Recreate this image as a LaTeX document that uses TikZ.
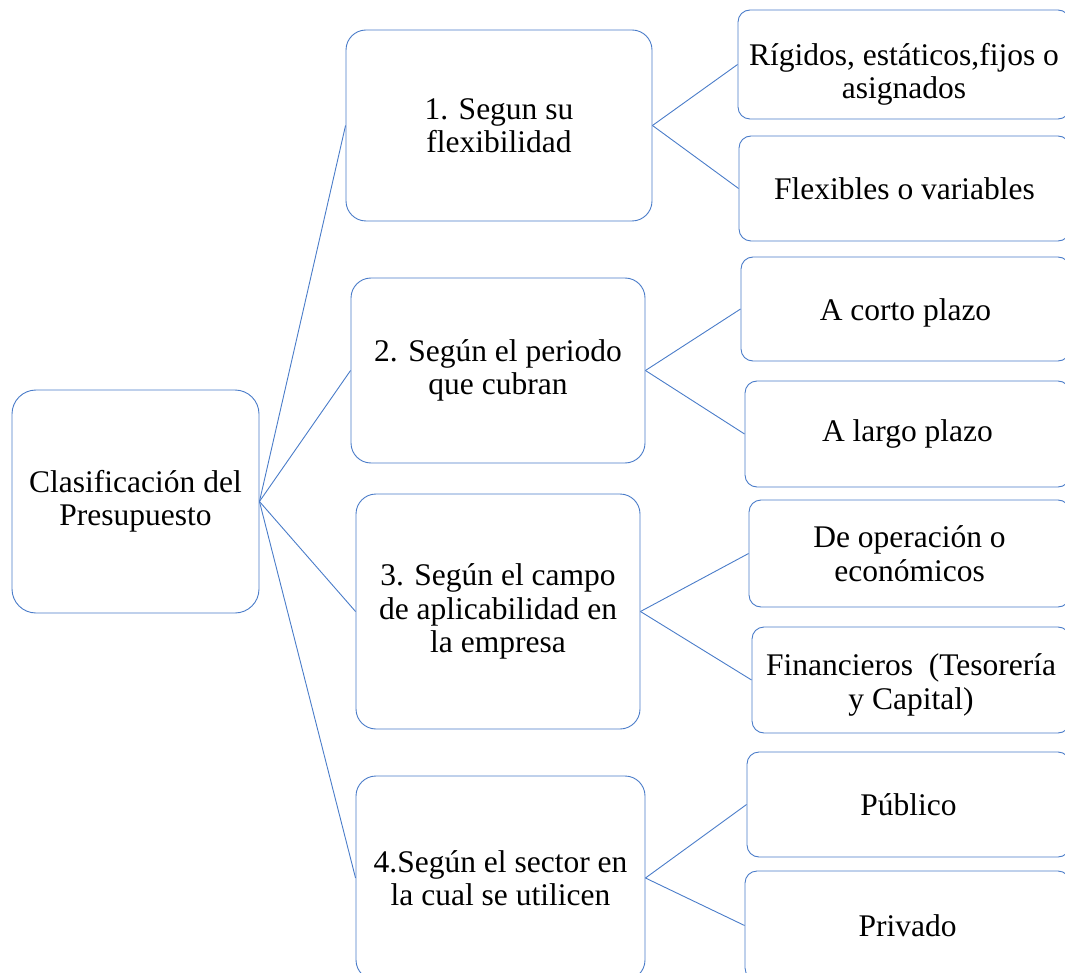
\documentclass[tikz,border=0pt]{standalone}
\usepackage{fontspec}
\setmainfont{Liberation Serif}
\definecolor{boxblue}{HTML}{4A7CC9}
\tikzset{
  clase/.style={draw=boxblue, line width=0.9pt, fill=white, align=center, inner sep=0pt,
    font=\fontsize{31.5}{33.5}\selectfont},
  raiz/.style={clase, rounded corners=24pt},
  rama/.style={clase, rounded corners=20pt},
  hoja/.style={clase, rounded corners=12pt},
  enlace/.style={draw=boxblue, line width=0.9pt}
}
\begin{document}
\begin{tikzpicture}[x=1pt,y=-1pt]
\clip (0,0) rectangle (1065,973);
% raiz
\node[raiz, minimum width=247pt, minimum height=223pt] (clasif) at (135.5,501.5) {Clasificación del\\Presupuesto};
% ramas
\node[rama, minimum width=306pt, minimum height=191pt] (flex) at (499,125.5) {1. Segun su\\flexibilidad};
\node[rama, minimum width=294pt, minimum height=185pt] (periodo) at (498,370.5) {2. Según el periodo\\que cubran};
\node[rama, minimum width=284pt, minimum height=235pt] (campo) at (498,611.5) {3. Según el campo\\de aplicabilidad en\\la empresa};
\node[rama, minimum width=289pt, minimum height=204pt] (sector) at (500.5,878) {4.Según el sector en\\la cual se utilicen};
% hojas
\node[hoja, minimum width=332pt, minimum height=109pt] (rigidos) at (904,64.5) {\rule{0pt}{42pt}Rígidos, estáticos,fijos o\\asignados};
\node[hoja, minimum width=331pt, minimum height=105pt] (flexibles) at (904.5,188.5) {Flexibles o variables};
\node[hoja, minimum width=329pt, minimum height=104pt] (corto) at (905.5,309) {\rule{0pt}{30pt}A corto plazo};
\node[hoja, minimum width=325pt, minimum height=106pt] (largo) at (907.5,434) {A largo plazo};
\node[hoja, minimum width=321pt, minimum height=107pt] (operacion) at (909.5,553.5) {De operación o\\económicos};
\node[hoja, minimum width=318pt, minimum height=106pt] (financieros) at (911,680) {\rule{0pt}{32pt}Financieros\ \ (Tesorería\\y Capital)};
\node[hoja, minimum width=323pt, minimum height=105pt] (publico) at (908.5,804.5) {Público};
\node[hoja, minimum width=325pt, minimum height=109pt] (privado) at (907.5,925.5) {Privado};
% enlaces
\foreach \r in {flex,periodo,campo,sector}
  \draw[enlace] (clasif.east) -- (\r.west);
\draw[enlace] (flex.east) -- (rigidos.west);
\draw[enlace] (flex.east) -- (flexibles.west);
\draw[enlace] (periodo.east) -- (corto.west);
\draw[enlace] (periodo.east) -- (largo.west);
\draw[enlace] (campo.east) -- (operacion.west);
\draw[enlace] (campo.east) -- (financieros.west);
\draw[enlace] (sector.east) -- (publico.west);
\draw[enlace] (sector.east) -- (privado.west);
\end{tikzpicture}
\end{document}
